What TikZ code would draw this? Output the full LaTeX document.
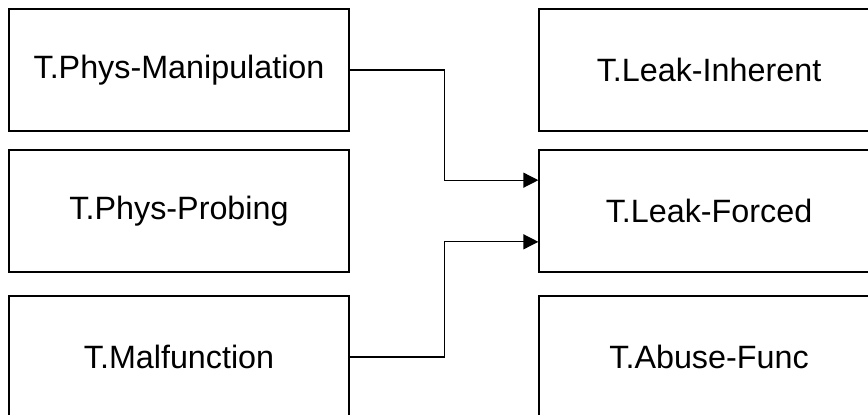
\documentclass[tikz,border=0pt]{standalone}
\usepackage{fontspec}
\setmainfont{Liberation Sans}
\usetikzlibrary{arrows.meta,calc}
\begin{document}
\begin{tikzpicture}[x=1pt,y=-1pt,
  box/.style={draw=black,line width=1.3pt,minimum width=340pt,minimum height=122pt,inner sep=0pt,
    font=\fontsize{32.3}{38}\selectfont},
  conn/.style={draw=black,line width=1.3pt,-{Triangle[length=15pt,width=15pt]}}]
\useasboundingbox (0,0) rectangle (868,415);
\node[box] (pm) at (179,70) {T.Phys-Manipulation};
\node[box] (pp) at (179,211) {T.Phys-Probing};
\node[box] (mf) at (179,357) {T.Malfunction};
\node[box] (li) at (709,70) {T.Leak-Inherent};
\node[box] (lf) at (709,211) {T.Leak-Forced};
\node[box] (af) at (709,357) {T.Abuse-Func};
\coordinate (lfa) at ($(lf.north west)!0.25!(lf.south west)$);
\coordinate (lfb) at ($(lf.north west)!0.75!(lf.south west)$);
\coordinate (mx1) at ($(pm.east)+(95,0)$);
\coordinate (mx2) at ($(mf.east)+(95,0)$);
\draw[conn] (pm.east) -- (mx1) |- (lfa);
\draw[conn] (mf.east) -- (mx2) |- (lfb);
\end{tikzpicture}
\end{document}
